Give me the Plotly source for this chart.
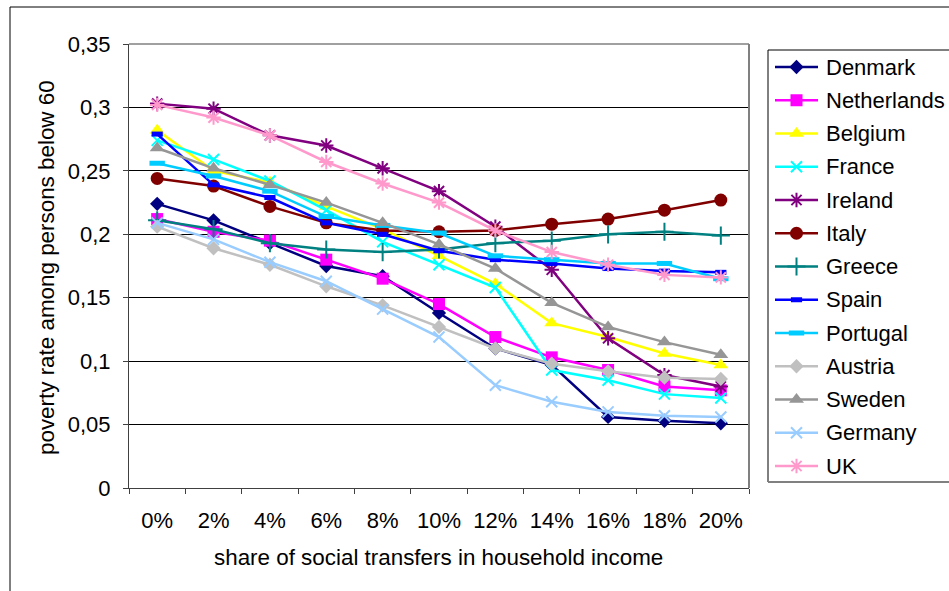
import plotly.graph_objects as go

# Share of social transfers in household income (category axis)
categories = ["0%", "2%", "4%", "6%", "8%", "10%", "12%", "14%", "16%", "18%", "20%"]

# Poverty rate among persons below 60, per country
denmark = [0.224, 0.211, 0.193, 0.175, 0.167, 0.138, 0.110, 0.097, 0.056, 0.053, 0.051]
netherlands = [0.212, 0.202, 0.195, 0.180, 0.165, 0.145, 0.119, 0.103, 0.093, 0.080, 0.077]
belgium = [0.282, 0.250, 0.241, 0.222, 0.204, 0.183, 0.161, 0.130, 0.119, 0.106, 0.097]
france = [0.274, 0.259, 0.242, 0.219, 0.194, 0.176, 0.158, 0.093, 0.085, 0.074, 0.071]
ireland = [0.303, 0.299, 0.278, 0.270, 0.252, 0.234, 0.206, 0.172, 0.118, 0.089, 0.080]
italy = [0.244, 0.238, 0.222, 0.209, 0.203, 0.202, 0.203, 0.208, 0.212, 0.219, 0.227]
greece = [0.211, 0.204, 0.193, 0.188, 0.186, 0.188, 0.193, 0.195, 0.200, 0.202, 0.199]
spain = [0.279, 0.239, 0.229, 0.209, 0.200, 0.187, 0.180, 0.177, 0.173, 0.171, 0.170]
portugal = [0.256, 0.246, 0.234, 0.214, 0.207, 0.201, 0.183, 0.180, 0.177, 0.177, 0.165]
austria = [0.206, 0.189, 0.176, 0.159, 0.144, 0.127, 0.110, 0.098, 0.092, 0.087, 0.086]
sweden = [0.268, 0.252, 0.239, 0.225, 0.209, 0.192, 0.173, 0.146, 0.127, 0.115, 0.105]
germany = [0.209, 0.196, 0.178, 0.163, 0.141, 0.119, 0.081, 0.068, 0.060, 0.057, 0.056]
uk = [0.302, 0.292, 0.278, 0.257, 0.240, 0.225, 0.203, 0.186, 0.176, 0.168, 0.166]

y_tickvals = [0, 0.05, 0.1, 0.15, 0.2, 0.25, 0.3, 0.35]
y_ticktext = ["0", "0,05", "0,1", "0,15", "0,2", "0,25", "0,3", "0,35"]

FONT = "Arial, Liberation Sans, sans-serif"
FS = 22

# name, values, colour, marker symbol, marker size, marker line width
series = [
    ("Denmark", denmark, "#000080", "diamond", 11, 0),
    ("Netherlands", netherlands, "#FF00FF", "square", 12, 0),
    ("Belgium", belgium, "#FFFF00", "triangle-up", 13, 0),
    ("France", france, "#00FFFF", "x-thin", 11, 2),
    ("Ireland", ireland, "#800080", "asterisk", 12, 2),
    ("Italy", italy, "#800000", "circle", 13, 0),
    ("Greece", greece, "#008080", "cross-thin", 13, 2),
    ("Spain", spain, "#0000FF", "line-ew", 8, 5),
    ("Portugal", portugal, "#00CCFF", "line-ew", 11, 5),
    ("Austria", austria, "#C0C0C0", "diamond", 11, 0),
    ("Sweden", sweden, "#969696", "triangle-up", 13, 0),
    ("Germany", germany, "#99CCFF", "x-thin", 11, 2),
    ("UK", uk, "#FF99CC", "asterisk", 12, 2),
]

# Figure geometry in pixels
W, H = 949, 591
PLOT_L, PLOT_R, PLOT_T, PLOT_B = 129, 749, 44, 488
LEG_L, LEG_T, LEG_B = 768, 50, 482
LEG_ROW0, LEG_ROW_STEP = 67, 33.25
LEG_LINE_X0, LEG_LINE_X1, LEG_TEXT_X = 775, 818, 824


def fx(p):
    return p / W


def fy(p):
    return 1 - p / H


fig = go.Figure()

# Data series on the main axes
for name, vals, color, sym, size, lw in series:
    fig.add_trace(go.Scatter(
        x=categories, y=vals, name=name, mode="lines+markers",
        line=dict(color=color, width=2.5),
        marker=dict(symbol=sym, size=size, color=color,
                    line=dict(color=color, width=lw)),
        showlegend=False, xaxis="x", yaxis="y",
    ))

# Legend keys on a pixel-scaled helper axis pair
annotations = []
for i, (name, vals, color, sym, size, lw) in enumerate(series):
    row_y = LEG_ROW0 + i * LEG_ROW_STEP
    fig.add_trace(go.Scatter(
        x=[LEG_LINE_X0, LEG_LINE_X1], y=[row_y, row_y], mode="lines",
        line=dict(color=color, width=2.5), showlegend=False,
        hoverinfo="skip", xaxis="x2", yaxis="y2",
    ))
    fig.add_trace(go.Scatter(
        x=[(LEG_LINE_X0 + LEG_LINE_X1) / 2], y=[row_y], mode="markers",
        marker=dict(symbol=sym, size=size, color=color,
                    line=dict(color=color, width=lw)),
        showlegend=False, hoverinfo="skip", xaxis="x2", yaxis="y2",
    ))
    annotations.append(dict(
        text=name, xref="x2", yref="y2", x=LEG_TEXT_X, y=row_y,
        xanchor="left", yanchor="middle", showarrow=False,
        font=dict(family=FONT, size=FS, color="black"),
    ))

annotations += [
    dict(text="share of social transfers in household income",
         xref="paper", yref="paper", x=fx(438), y=fy(557),
         xanchor="center", yanchor="middle", showarrow=False,
         font=dict(family=FONT, size=22.4, color="black")),
    dict(text="poverty rate among persons below 60",
         xref="paper", yref="paper", x=fx(46), y=fy(268),
         xanchor="center", yanchor="middle", showarrow=False, textangle=-90,
         font=dict(family=FONT, size=22.4, color="black")),
]

fig.update_layout(
    template="none",
    width=W, height=H, autosize=False,
    margin=dict(l=0, r=0, t=0, b=0, pad=0),
    paper_bgcolor="white", plot_bgcolor="white",
    font=dict(family=FONT, size=FS, color="black"),
    showlegend=False,
    xaxis=dict(
        domain=[fx(PLOT_L), fx(PLOT_R)], anchor="y", automargin=False,
        type="category", range=[-0.5, 10.5],
        showgrid=False, zeroline=False,
        showline=True, linecolor="#404040", linewidth=1,
        ticks="outside", ticklen=5, tickwidth=1, tickcolor="#404040",
        tickson="boundaries",
        tickfont=dict(family=FONT, size=FS, color="black"),
        ticklabelstandoff=13,
    ),
    yaxis=dict(
        domain=[fy(PLOT_B), fy(PLOT_T)], anchor="x", automargin=False,
        range=[0, 0.35], tickvals=y_tickvals, ticktext=y_ticktext,
        showgrid=True, gridcolor="#000000", gridwidth=1,
        zeroline=False,
        showline=True, linecolor="#404040", linewidth=1,
        ticks="outside", ticklen=5, tickwidth=1, tickcolor="#404040",
        tickfont=dict(family=FONT, size=FS, color="black"),
        ticklabelstandoff=8,
    ),
    xaxis2=dict(
        domain=[fx(LEG_L), 1], anchor="y2", range=[LEG_L, W],
        visible=False, fixedrange=True, automargin=False,
    ),
    yaxis2=dict(
        domain=[0, 1], anchor="x2", range=[H, 0],
        visible=False, fixedrange=True, automargin=False,
    ),
    shapes=[
        # plot-area border (top and right)
        dict(type="line", xref="paper", yref="paper",
             x0=fx(PLOT_L), x1=fx(PLOT_R), y0=fy(PLOT_T), y1=fy(PLOT_T),
             line=dict(color="#808080", width=1.5), layer="above"),
        dict(type="line", xref="paper", yref="paper",
             x0=fx(PLOT_R), x1=fx(PLOT_R), y0=fy(PLOT_B), y1=fy(PLOT_T),
             line=dict(color="#808080", width=2), layer="above"),
        # legend frame
        dict(type="line", xref="paper", yref="paper",
             x0=fx(LEG_L), x1=fx(LEG_L), y0=fy(LEG_B), y1=fy(LEG_T),
             line=dict(color="black", width=1)),
        dict(type="line", xref="paper", yref="paper",
             x0=fx(LEG_L), x1=1.02, y0=fy(LEG_T), y1=fy(LEG_T),
             line=dict(color="black", width=1)),
        dict(type="line", xref="paper", yref="paper",
             x0=fx(LEG_L), x1=1.02, y0=fy(LEG_B), y1=fy(LEG_B),
             line=dict(color="#808080", width=2)),
        # outer chart frame
        dict(type="line", xref="paper", yref="paper",
             x0=fx(10), x1=fx(10), y0=-0.02, y1=fy(7),
             line=dict(color="black", width=1)),
        dict(type="line", xref="paper", yref="paper",
             x0=fx(10), x1=1.02, y0=fy(7), y1=fy(7),
             line=dict(color="black", width=1)),
    ],
    annotations=annotations,
)

fig.write_html("out.html")
